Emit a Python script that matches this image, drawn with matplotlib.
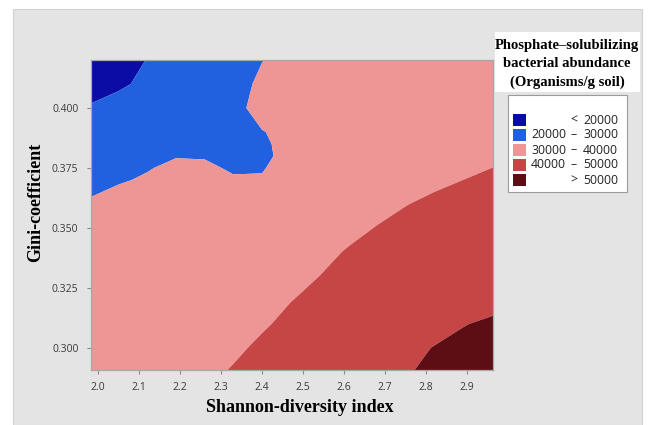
import matplotlib
matplotlib.use("Agg")
import matplotlib.pyplot as plt
from matplotlib.patches import Rectangle
import numpy as np

# grid of Shannon index (columns) and Gini coefficient (rows)
shannon = [1.98, 2.05, 2.12, 2.19, 2.26, 2.33, 2.40, 2.47, 2.54, 2.61, 2.68, 2.75, 2.82, 2.89, 2.97]
gini = [0.29, 0.30, 0.31, 0.32, 0.33, 0.34, 0.35, 0.36, 0.37, 0.375, 0.38, 0.385, 0.39, 0.40, 0.41, 0.42]

# PSB abundance, thousands of organisms per g soil (one list per gini row)
abundance_k = [
    [32.8, 34.4, 35.9, 37.4, 38.9, 40.4, 42.0, 43.5, 45.0, 46.5, 48.0, 49.6, 51.1, 52.6, 54.3],
    [31.3, 32.9, 34.5, 36.0, 37.6, 39.2, 40.8, 42.3, 43.9, 45.5, 47.1, 48.6, 50.2, 51.8, 53.6],
    [30.9, 32.3, 33.7, 35.2, 36.6, 38.1, 39.5, 41.0, 42.4, 43.9, 45.3, 46.8, 48.2, 49.7, 51.3],
    [32.0, 33.2, 34.3, 35.4, 36.5, 37.6, 38.8, 39.9, 41.0, 42.1, 43.2, 44.4, 45.5, 46.6, 47.9],
    [32.2, 33.2, 34.2, 35.1, 36.1, 37.1, 38.1, 39.1, 40.0, 41.0, 42.0, 43.0, 44.0, 44.9, 46.1],
    [32.3, 33.2, 34.0, 34.9, 35.8, 36.7, 37.5, 38.4, 39.3, 40.2, 41.0, 41.9, 42.8, 43.7, 44.7],
    [32.4, 33.2, 33.9, 34.7, 35.5, 36.2, 37.0, 37.8, 38.5, 39.3, 40.1, 40.9, 41.6, 42.4, 43.3],
    [31.0, 32.5, 33.5, 34.0, 35.0, 35.5, 36.0, 37.1, 37.8, 38.5, 39.2, 39.9, 40.6, 41.3, 42.1],
    [27.3, 29.4, 30.7, 33.0, 33.0, 30.6, 30.5, 34.0, 36.8, 37.5, 38.1, 38.7, 39.4, 40.0, 40.7],
    [26.2, 28.2, 29.6, 31.3, 31.0, 29.3, 29.6, 32.5, 35.4, 36.2, 37.0, 37.8, 38.7, 39.3, 40.1],
    [25.0, 27.0, 28.4, 29.7, 29.6, 28.5, 29.0, 31.5, 34.0, 35.0, 36.0, 37.0, 38.0, 38.7, 39.5],
    [24.0, 26.2, 27.4, 28.6, 28.8, 28.0, 29.2, 31.6, 34.0, 35.0, 35.7, 36.5, 37.5, 38.1, 38.7],
    [23.0, 25.5, 26.5, 27.5, 28.0, 27.5, 29.7, 32.0, 34.0, 35.0, 35.5, 36.0, 37.0, 37.5, 38.0],
    [21.0, 23.5, 24.5, 26.0, 27.0, 27.5, 33.0, 34.0, 34.5, 35.0, 35.0, 35.5, 36.0, 36.5, 37.0],
    [15.0, 18.5, 22.0, 24.5, 26.0, 27.0, 31.5, 33.5, 34.0, 34.5, 34.5, 35.0, 35.5, 36.0, 36.5],
    [12.0, 15.0, 20.3, 23.0, 25.0, 26.5, 29.8, 33.0, 33.5, 34.0, 34.0, 34.5, 35.0, 35.5, 36.0],
]

levels = [0, 20000, 30000, 40000, 50000, 1e6]
band_colors = ["#0b0ba6", "#2161e0", "#ee9595", "#c64545", "#5d0d14"]
band_labels = [("", "<", "20000"), ("20000", "\u2013", "30000"), ("30000", "\u2013", "40000"),
               ("40000", "\u2013", "50000"), ("", ">", "50000")]

xticks = [2.0, 2.1, 2.2, 2.3, 2.4, 2.5, 2.6, 2.7, 2.8, 2.9]
yticks = [0.300, 0.325, 0.350, 0.375, 0.400]

W, H = 649, 425
fig = plt.figure(figsize=(W / 100, H / 100), dpi=100)
fig.patch.set_facecolor("white")

# gray panel behind everything
fig.patches.append(Rectangle((13 / W, 0), 629 / W, (H - 9) / H, transform=fig.transFigure,
                             facecolor="#e4e4e4", edgecolor="#d2d2d2", linewidth=0.8, zorder=-5))

ax = fig.add_axes([91 / W, 55 / H, 402 / W, 310 / H])
ax.set_zorder(2)
X, Y = np.meshgrid(shannon, gini)
Z = np.array(abundance_k) * 1000
ax.contourf(X, Y, Z, levels=levels, colors=band_colors, antialiased=True)

ax.set_xlim(1.983, 2.963)
ax.set_ylim(0.2908, 0.4200)
ax.set_xticks(xticks)
ax.set_yticks(yticks)
ax.set_xticklabels([f"{v:.1f}" for v in xticks])
ax.set_yticklabels([f"{v:.3f}" for v in yticks])
ax.tick_params(direction="out", length=3, width=0.8, color="#8a8a8a", labelsize=7.5,
               labelcolor="#3a3a3a", pad=6)
for lab in ax.get_xticklabels() + ax.get_yticklabels():
    lab.set_family("Open Sans")
for sp in ax.spines.values():
    sp.set_color("#a8a8a8")
    sp.set_linewidth(0.9)

fig.text(300 / W, 1 - 407 / H, "Shannon-diversity index", ha="center", va="center",
         family="Liberation Serif", weight="bold", fontsize=13, color="black")
fig.text(36 / W, 1 - 202 / H, "Gini-coefficient", ha="center", va="center", rotation=90,
         family="Liberation Serif", weight="bold", fontsize=13, color="black")

# legend title on white strip
fig.patches.append(Rectangle((495 / W, 1 - 92 / H), 145 / W, 60 / H, transform=fig.transFigure,
                             facecolor="white", edgecolor="none", zorder=1))
for i, line in enumerate(["Phosphate\u2013solubilizing", "bacterial abundance", "(Organisms/g soil)"]):
    fig.text(567 / W, 1 - (45 + 18.5 * i) / H, line, ha="center", va="center",
             family="Liberation Serif", weight="bold", fontsize=10.5, zorder=2)

# legend box with colour swatches
fig.patches.append(Rectangle((508 / W, 1 - 192 / H), 119 / W, 97 / H, transform=fig.transFigure,
                             facecolor="white", edgecolor="#9a9a9a", linewidth=0.8, zorder=1))
for i, (col, (lo, sep, hi)) in enumerate(zip(band_colors, band_labels)):
    yc = 120 + 15 * i
    fig.patches.append(Rectangle((513 / W, 1 - (yc + 6) / H), 13 / W, 12 / H,
                                 transform=fig.transFigure, facecolor=col, edgecolor="none", zorder=2))
    kw = dict(va="center", family="Open Sans", fontsize=8.8, color="#222222", zorder=3)
    if lo:
        fig.text(531 / W, 1 - yc / H, lo, ha="left", **kw)
    fig.text(574 / W, 1 - yc / H, sep, ha="center", **kw)
    fig.text(618 / W, 1 - yc / H, hi, ha="right", **kw)

fig.savefig("out.png", dpi=100)
